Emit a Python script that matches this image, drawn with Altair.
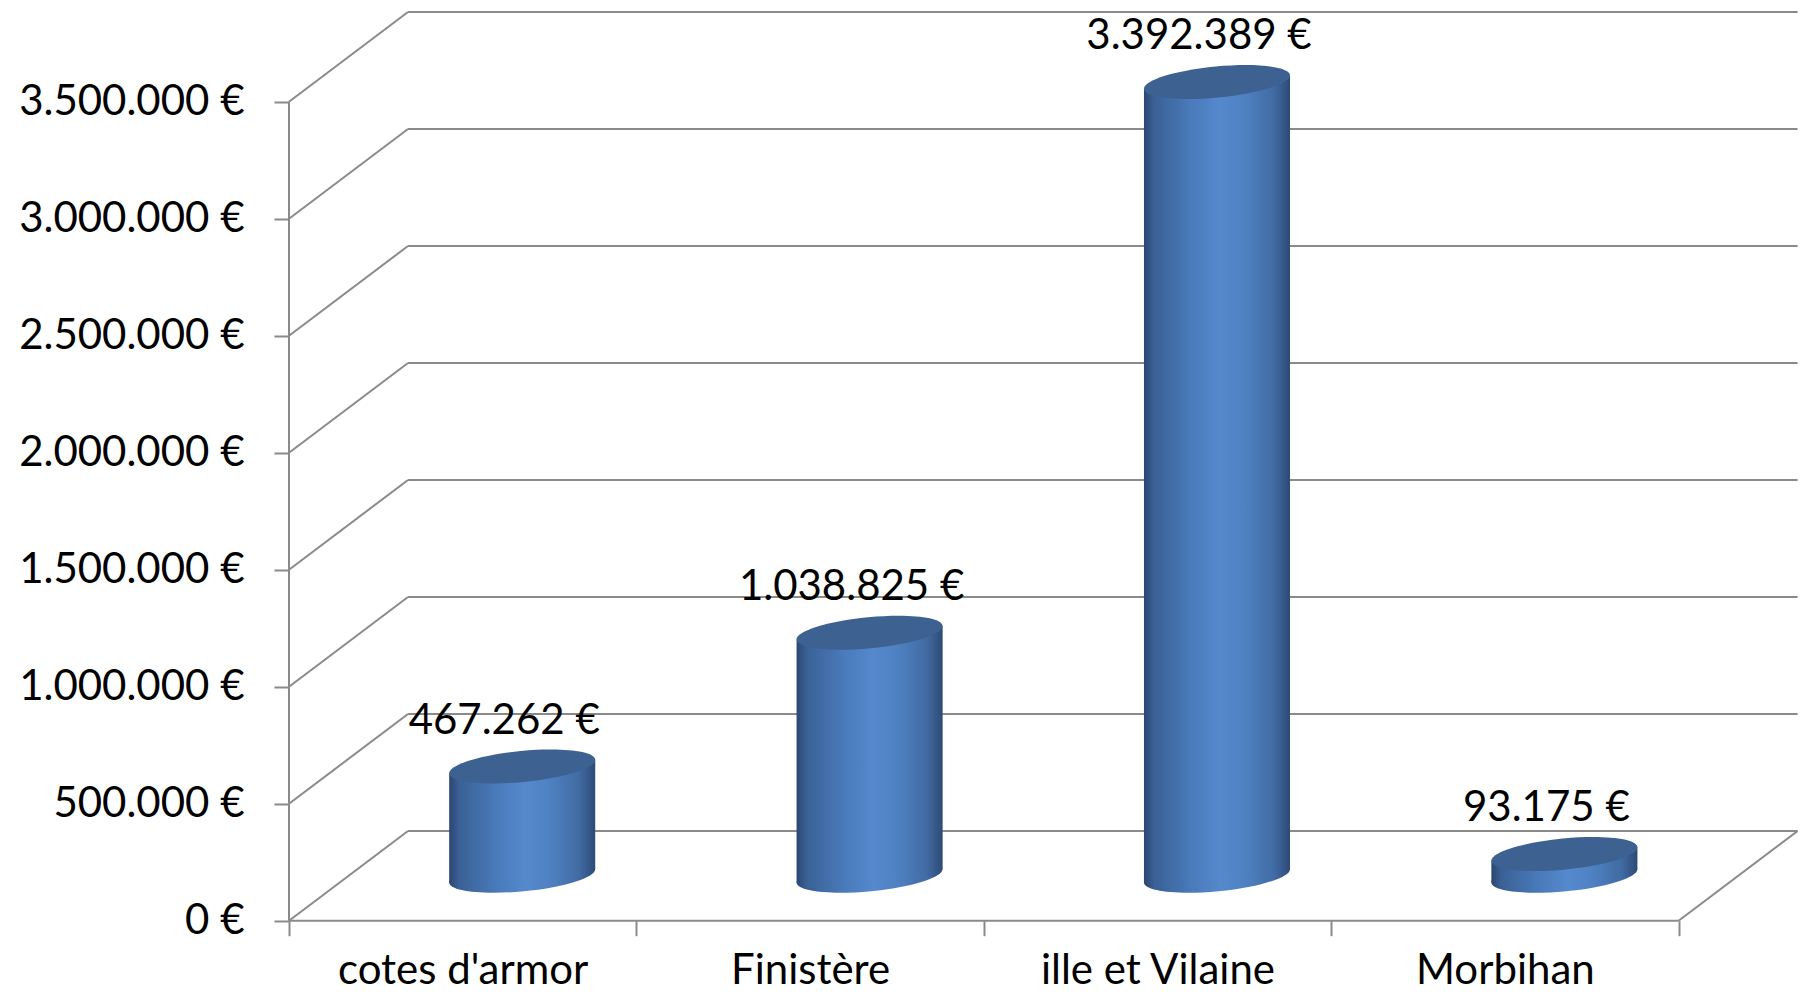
import math
import json
import altair as alt
import pandas as pd

# ---------------- data ----------------
categories = ["cotes d'armor", "Finistère", "ille et Vilaine", "Morbihan"]
values = [467262, 1038825, 3392389, 93175]
y_ticks = [0, 500000, 1000000, 1500000, 2000000, 2500000, 3000000, 3500000]

# ---------------- geometry / style ----------------
CAT_PX = 347.4                 # pixel width of one category slot
PX_PER_VAL = 117.0 / 500000    # pixels per value unit
DEPTH_PX_X = 119.0             # oblique depth offset (px)
DEPTH_PX_Y = 89.7
CYL_RX = 73.35                 # cylinder radius (px)
CYL_RY = 15.5                  # ellipse minor radius (px)
TILT = 5.5                     # ellipse tilt (deg)
FONT = "Lato"
FS = 42
GRID = "#8a8a8a"

NCAT = len(categories)
DX = DEPTH_PX_X / CAT_PX
DY = DEPTH_PX_Y / PX_PER_VAL
YTOP = max(y_ticks)
XMAX = NCAT + DX
YMAX = YTOP + DY
W = XMAX * CAT_PX
H = YMAX * PX_PER_VAL

th = math.radians(TILT)
xext = math.sqrt(CYL_RX**2 * math.cos(th)**2 + CYL_RY**2 * math.sin(th)**2)
yoff = (CYL_RX**2 - CYL_RY**2) * math.sin(th) * math.cos(th) / xext
HALF_U = xext / CAT_PX
TILT_V = yoff / PX_PER_VAL

r = CYL_RY / CYL_RX
k = 0.5523
ELLIPSE = (f"M-1,0C-1,{-k*r:.4f},{-k:.4f},{-r:.4f},0,{-r:.4f}"
           f"C{k:.4f},{-r:.4f},1,{-k*r:.4f},1,0"
           f"C1,{k*r:.4f},{k:.4f},{r:.4f},0,{r:.4f}"
           f"C{-k:.4f},{r:.4f},-1,{k*r:.4f},-1,0Z")
ELL_SIZE = (2 * CYL_RX) ** 2

body_grad = {
    "gradient": "linear", "x1": 0, "y1": 0, "x2": 1, "y2": 0,
    "stops": [
        {"offset": 0.0, "color": "#2c4671"},
        {"offset": 0.07, "color": "#3a6196"},
        {"offset": 0.33, "color": "#4a7bbb"},
        {"offset": 0.52, "color": "#5589cd"},
        {"offset": 0.68, "color": "#4f82c3"},
        {"offset": 0.89, "color": "#416ba3"},
        {"offset": 1.0, "color": "#2d4a77"},
    ],
}
TOP_COLOR = "#3d6292"

# ---------------- tables ----------------
grid_rows = []
for v in y_ticks:
    grid_rows.append(dict(x=0, y=v, x2=DX, y2=v + DY))
    grid_rows.append(dict(x=DX, y=v + DY, x2=XMAX, y2=v + DY))
grid_rows.append(dict(x=0, y=0, x2=NCAT, y2=0))          # front floor edge
grid_rows.append(dict(x=NCAT, y=0, x2=XMAX, y2=DY))      # right floor edge
grid_rows.append(dict(x=0, y=0, x2=0, y2=YTOP))          # front value axis line
grid_df = pd.DataFrame(grid_rows)

cyl = pd.DataFrame({"cat": categories, "value": values})
cyl["cx"] = [i + 0.5 + DX / 2 for i in range(NCAT)]
cyl["base"] = DY / 2
cyl["top"] = cyl["value"] + DY / 2
cyl["label"] = [f"{v:,}".replace(",", ".") + " €" for v in values]

body_rows = []
for _, row in cyl.iterrows():
    body_rows.append(dict(cat=row["cat"], x=row["cx"] - HALF_U,
                          yt=row["top"] - TILT_V, yb=row["base"] - TILT_V))
    body_rows.append(dict(cat=row["cat"], x=row["cx"] + HALF_U,
                          yt=row["top"] + TILT_V, yb=row["base"] + TILT_V))
body_df = pd.DataFrame(body_rows)

xs = alt.Scale(domain=[0, XMAX], nice=False, zero=False)
ys = alt.Scale(domain=[0, YMAX], nice=False, zero=False)

names_js = json.dumps(categories, ensure_ascii=False)
x_axis = alt.Axis(
    values=list(range(NCAT + 1)), title=None, grid=False, domain=False,
    ticks=True, tickSize=15, tickColor=GRID, tickWidth=2,
    labelOffset=CAT_PX / 2, labelFlush=False, labelOverlap=False,
    labelLimit=1000,
    labelExpr=f"datum.value < {NCAT} ? {names_js}[datum.value] : ''",
    labelFont=FONT, labelFontSize=FS, labelColor="black",
    labelBaseline="alphabetic", labelPadding=48,
)
y_axis = alt.Axis(
    values=y_ticks, title=None, grid=False, domain=False,
    ticks=True, tickSize=15, tickColor=GRID, tickWidth=2,
    labelFlush=False, labelOverlap=False, labelLimit=1000,
    labelExpr="replace(format(datum.value, ',.0f'), regexp(',', 'g'), '.') + ' €'",
    labelFont=FONT, labelFontSize=FS, labelColor="black", labelPadding=30,
)


def X(field):
    return alt.X(field, scale=xs, axis=x_axis, title=None)


def Y(field):
    return alt.Y(field, scale=ys, axis=y_axis, title=None)


grid = alt.Chart(grid_df).mark_rule(color=GRID, strokeWidth=2).encode(
    x=X("x:Q"), x2="x2:Q", y=Y("y:Q"), y2="y2:Q",
)

bottom = alt.Chart(cyl).mark_point(
    shape=ELLIPSE, size=ELL_SIZE, filled=True, fill=body_grad, opacity=1,
    strokeWidth=0, angle=360 - TILT,
).encode(x=X("cx:Q"), y=Y("base:Q"))

body = alt.Chart(body_df).mark_area(
    fill=body_grad, opacity=1, orient="vertical", interpolate="linear",
).encode(x=X("x:Q"), y=Y("yt:Q"), y2="yb:Q", detail="cat:N")

top = alt.Chart(cyl).mark_point(
    shape=ELLIPSE, size=ELL_SIZE, filled=True, fill=TOP_COLOR, opacity=1,
    strokeWidth=0, angle=360 - TILT,
).encode(x=X("cx:Q"), y=Y("top:Q"))

labels = alt.Chart(cyl).mark_text(
    font=FONT, fontSize=FS, color="black", align="center", baseline="middle",
    dx=-18, dy=-46,
).encode(x=X("cx:Q"), y=Y("top:Q"), text="label:N")

chart = alt.layer(grid, bottom, body, top, labels).properties(
    width=W, height=H,
    autosize=alt.AutoSizeParams(type="none"),
    padding={"left": 281, "top": 4, "right": 0, "bottom": 74},
    background="white",
).configure_view(strokeWidth=0)

chart.save("out.html", embed_options={"renderer": "svg", "actions": False})
